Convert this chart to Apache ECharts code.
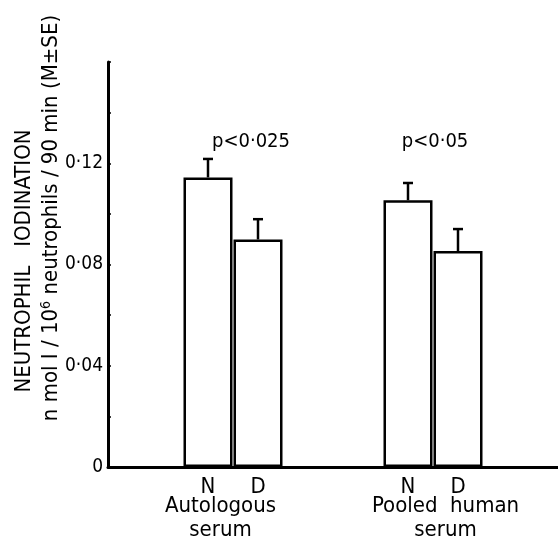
<!DOCTYPE html>
<html>
<head>
<meta charset="utf-8">
<script src="https://cdn.jsdelivr.net/npm/echarts@6/dist/echarts.min.js"></script>
<style>
html,body{margin:0;padding:0;background:#fff;}
#chart{width:558px;height:537px;}
</style>
</head>
<body>
<div id="chart"></div>
<script>
// ---- data ----
const slots = ['', ' ', 'N', 'D', '  ', '   ', 'N ', 'D ', '    ', '     '];
const groups = ['Autologous\nserum', 'Pooled  human\nserum'];
const means = [0.1144, 0.0899, 0.1054, 0.0853];
const upperSE = [0.1217, 0.0979, 0.1122, 0.0940];
const pValues = ['p<0·025', 'p<0·05'];
const yTicks = [0, 0.04, 0.08, 0.12];
const yTitle1 = 'NEUTROPHIL   IODINATION';
const yTitle2 = 'n mol I / 10{sup|6} neutrophils / 90 min (M±SE)';

// ---- build ----
let k = 0;
const barData = slots.map(s => s.trim() ? means[k++] : null);
const errData = [];
k = 0;
slots.forEach((s, i) => { if (s.trim()) { errData.push([i, means[k], upperSE[k]]); k++; } });

const FONT = '"DejaVu Sans Condensed", "DejaVu Sans", sans-serif';
const chart = echarts.init(document.getElementById('chart'), null, {renderer: 'canvas'});

chart.setOption({
  animation: false,
  backgroundColor: '#fff',
  grid: {left: 108, right: 0, top: 62, bottom: 70, containLabel: false, outerBoundsMode: 'none'},
  xAxis: [{
    type: 'category',
    data: slots,
    boundaryGap: false,
    axisLine: {lineStyle: {color: '#000', width: 3}},
    axisTick: {show: false},
    axisLabel: {interval: 0, color: '#000', fontSize: 22, fontFamily: FONT, margin: 9,
      formatter: v => v.trim()}
  }, {
    type: 'category',
    data: groups,
    position: 'bottom',
    boundaryGap: true,
    axisLine: {show: false},
    axisTick: {show: false},
    axisLabel: {interval: 0, color: '#000', fontSize: 22, fontFamily: FONT, margin: 27, lineHeight: 24}
  }],
  yAxis: {
    type: 'value',
    min: 0, max: 0.16, interval: 0.04,
    axisLine: {show: true, lineStyle: {color: '#000', width: 3}},
    axisTick: {show: true, inside: true, length: 3, lineStyle: {color: '#000', width: 1.5}},
    minorTick: {show: true, splitNumber: 2, length: 3, lineStyle: {color: '#000', width: 1.5}},
    splitLine: {show: false},
    axisLabel: {color: '#000', fontSize: 19, fontFamily: FONT, margin: 5,
      formatter: v => yTicks.some(t => Math.abs(t - v) < 1e-9) ? (v === 0 ? '0' : v.toFixed(2).replace('.', '·')) : ''}
  },
  series: [{
    type: 'bar',
    data: barData,
    barWidth: 49,
    itemStyle: {color: '#fff', borderColor: '#000', borderWidth: 2.5},
    z: 2
  }, {
    type: 'custom',
    data: errData,
    encode: {x: 0, y: [1, 2]},
    z: 3,
    renderItem: function (params, api) {
      const x = api.value(0);
      const p0 = api.coord([x, api.value(1)]);
      const p1 = api.coord([x, api.value(2)]);
      const st = {stroke: '#000', lineWidth: 2.5};
      return {type: 'group', children: [
        {type: 'line', shape: {x1: p0[0], y1: p0[1], x2: p1[0], y2: p1[1]}, style: st},
        {type: 'line', shape: {x1: p1[0] - 5, y1: p1[1], x2: p1[0] + 5, y2: p1[1]}, style: st}
      ]};
    }
  }],
  graphic: [
    {type: 'text', x: 251, y: 142, style: {text: pValues[0], fill: '#000', font: '20px ' + FONT, align: 'center', verticalAlign: 'middle'}},
    {type: 'text', x: 435, y: 142, style: {text: pValues[1], fill: '#000', font: '20px ' + FONT, align: 'center', verticalAlign: 'middle'}},
    {type: 'text', x: 24, y: 261, rotation: Math.PI / 2,
      style: {text: yTitle1, fill: '#000', font: '22px ' + FONT, align: 'center', verticalAlign: 'middle'}},
    {type: 'text', x: 51, y: 218, rotation: Math.PI / 2,
      style: {text: yTitle2, fill: '#000', font: '22px ' + FONT, align: 'center', verticalAlign: 'middle',
        rich: {sup: {fontSize: 14, fontFamily: FONT, verticalAlign: 'top', padding: [0, 0, 10, 0], fill: '#000'}}}}
  ]
});
</script>
</body>
</html>
